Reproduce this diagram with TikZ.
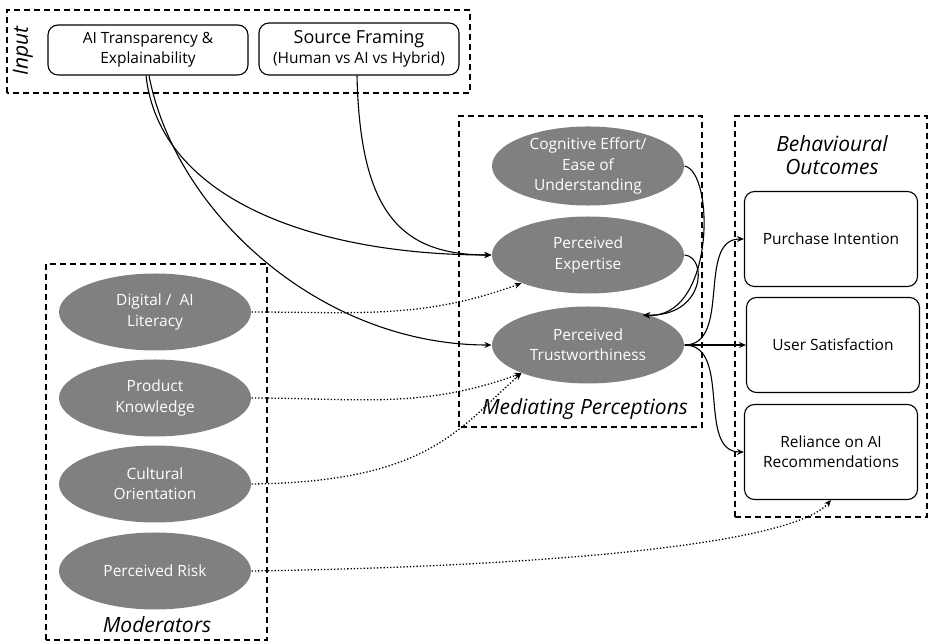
\documentclass[tikz,border=0pt]{standalone}
\usepackage{fontspec}
\setmainfont{Open Sans}
\usetikzlibrary{arrows.meta,shapes.geometric}
\newcommand{\fs}[1]{\fontsize{#1}{\dimexpr #1pt*13/10\relax}\selectfont}
\begin{document}
\begin{tikzpicture}[x=1pt,y=1pt,>={Stealth[length=7pt,width=6pt]},line width=1.1pt,
  node distance=86pt,
  oval/.style={ellipse,fill=black!50,text=white,align=center,inner sep=0pt,
    minimum width=192pt,minimum height=77pt,font=\fs{15.5}},
  rbox/.style={draw,rounded corners=10pt,align=center,font=\fs{15.5}},
  grp/.style={draw,dash pattern=on 6pt off 4pt,line width=1.2pt},
  ttl/.style={font=\itshape\fs{21},align=center},
  dot/.style={->,dotted,line width=1.3pt}]
\useasboundingbox (0,0) rectangle (929,642);
% groups
\draw[grp] (7,549) rectangle (470,632);
\draw[grp] (459,215) rectangle (702,526);
\draw[grp] (735,125) rectangle (927,526);
\draw[grp] (46,2) rectangle (267,378);
\node[ttl,rotate=90] at (23,591) {Input};
\node[ttl] at (585,233) {Mediating Perceptions};
\node[ttl] at (832,487) {Behavioural\\[-4pt]Outcomes};
\node[ttl] at (157,17) {Moderators};
% input
\node[rbox,minimum width=200pt,minimum height=50pt] (ait) at (148,592) {AI Transparency \&\\Explainability};
\node[rbox,minimum width=200pt,minimum height=52pt] (src) at (359,593) {{\fs{18}Source Framing}\\(Human vs AI vs Hybrid)};
% mediators
\node[oval] (cog) at (588,476) {Cognitive Effort/\\Ease of\\Understanding};
\node[oval,below of=cog,node distance=89pt] (exp) {Perceived\\Expertise};
\node[oval,below of=exp,node distance=90pt] (tru) {Perceived\\Trustworthiness};
% outcomes
\node[rbox,minimum width=173pt,minimum height=95pt] (pur) at (831,403) {Purchase Intention};
\node[rbox,minimum width=173pt,minimum height=95pt] (sat) at (833,297) {User Satisfaction};
\node[rbox,minimum width=173pt,minimum height=95pt] (rel) at (831,190) {Reliance on AI\\Recommendations};
% moderators
\node[oval] (dig) at (155,330) {Digital /\ \ AI\\Literacy};
\node[oval,below of=dig] (kno) {Product\\Knowledge};
\node[oval,below of=kno] (cul) {Cultural\\Orientation};
\node[oval,below of=cul,node distance=87pt] (rsk) {Perceived Risk};
\coordinate (tin) at (643,327);
% links
\draw[->] ([xshift=-2pt]ait.south) .. controls (160,440) and (320,387) .. (exp.west);
\draw[->] ([xshift=1pt]ait.south) .. controls (175,430) and (320,297) .. (tru.west);
\draw[->] ([xshift=-2pt]src.south) .. controls (360,430) and (400,387) .. (exp.west);
\draw[->] (cog.east) .. controls (715,470) and (715,322) .. (tin);
\draw[->] (exp.east) .. controls (708,385) and (705,325) .. (tin);
\draw[->] (tru.east) to[out=0,in=180] (pur.west);
\draw[->] (tru.east) -- (sat.west);
\draw[->] (tru.east) to[out=0,in=180] (rel.west);
\draw[dot] (dig.east) to[out=0,in=200] (exp.203);
\draw[dot] (kno.east) to[out=0,in=200] (tru.203);
\draw[dot] (cul.east) .. controls (430,160) and (460,215) .. (tru.203);
\draw[dot] (rsk.east) .. controls (520,75) and (790,95) .. (rel.south);
\end{tikzpicture}
\end{document}
